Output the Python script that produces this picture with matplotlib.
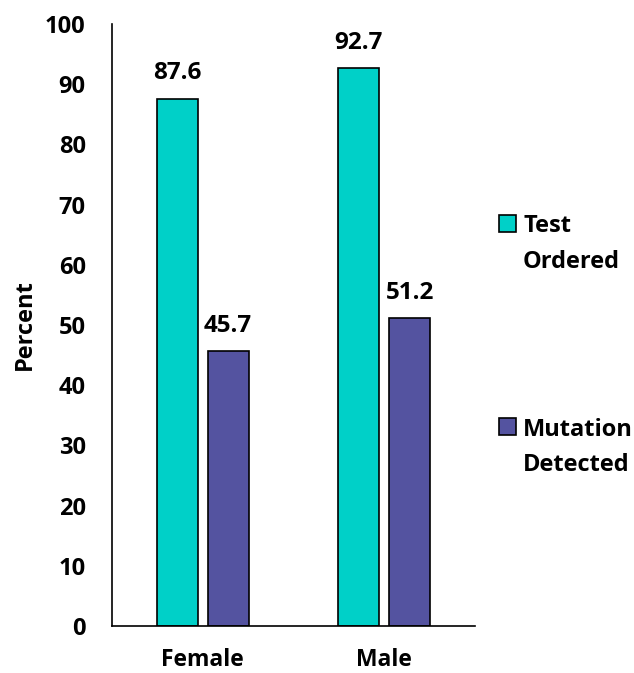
import numpy as np
import matplotlib.pyplot as plt
from matplotlib.patches import Rectangle
from matplotlib.legend_handler import HandlerPatch

categories = ['Female', 'Male']
test_ordered = [87.6, 92.7]
mutation_detected = [45.7, 51.2]
series_labels = ['Test\nOrdered', 'Mutation\nDetected']

plt.rcParams['font.family'] = ['Open Sans', 'DejaVu Sans']
plt.rcParams['font.weight'] = 'bold'

fig = plt.figure(figsize=(6.34, 6.73), dpi=100)
ax = fig.add_axes([0.1767, 0.0698, 0.5725, 0.8945])

x = np.arange(len(categories))
w = 0.226
b1 = ax.bar(x - 0.14, test_ordered, w, color='#00D0C8', edgecolor='black', linewidth=1.2)
b2 = ax.bar(x + 0.14, mutation_detected, w, color='#5453A0', edgecolor='black', linewidth=1.2)

for bars, vals in [(b1, test_ordered), (b2, mutation_detected)]:
    for bar, v in zip(bars, vals):
        ax.text(bar.get_x() + bar.get_width() / 2, v + 3.2, f'{v:.1f}',
                ha='center', va='baseline', fontsize=17.5, fontweight='bold')

ax.set_xlim(-0.5, 1.5)
ax.set_ylim(0, 100)
ax.set_yticks(range(0, 101, 10))
ax.set_xticks(x)
ax.set_xticklabels(categories)
ax.tick_params(axis='y', length=0, labelsize=17, pad=19)
ax.tick_params(axis='x', length=0, labelsize=16.5, pad=16)
for lab in ax.get_xticklabels() + ax.get_yticklabels():
    lab.set_fontweight('bold')
ax.spines['top'].set_visible(False)
ax.spines['right'].set_visible(False)
ax.spines['left'].set_linewidth(1.2)
ax.spines['bottom'].set_linewidth(1.2)

ax.set_ylabel('Percent', fontsize=17, fontweight='bold', labelpad=6)


# square marker next to the first line of a two-line legend label
def top_square(legend, orig_handle, xdescent, ydescent, width, height, fontsize):
    s = 0.72 * fontsize
    return Rectangle((-xdescent, 0.89 * fontsize), s, s)


leg = fig.legend(handles=[b1.patches[0], b2.patches[0]], labels=series_labels,
                 loc='upper left', bbox_to_anchor=(0.787, 0.682), frameon=False,
                 fontsize=17, labelspacing=6.1, handlelength=0.72, handleheight=0.7,
                 handletextpad=0.3, borderpad=0, borderaxespad=0,
                 handler_map={Rectangle: HandlerPatch(patch_func=top_square)})
for t in leg.get_texts():
    t.set_fontweight('bold')
    t.set_linespacing(1.64)

fig.savefig('out.png', dpi=100)
